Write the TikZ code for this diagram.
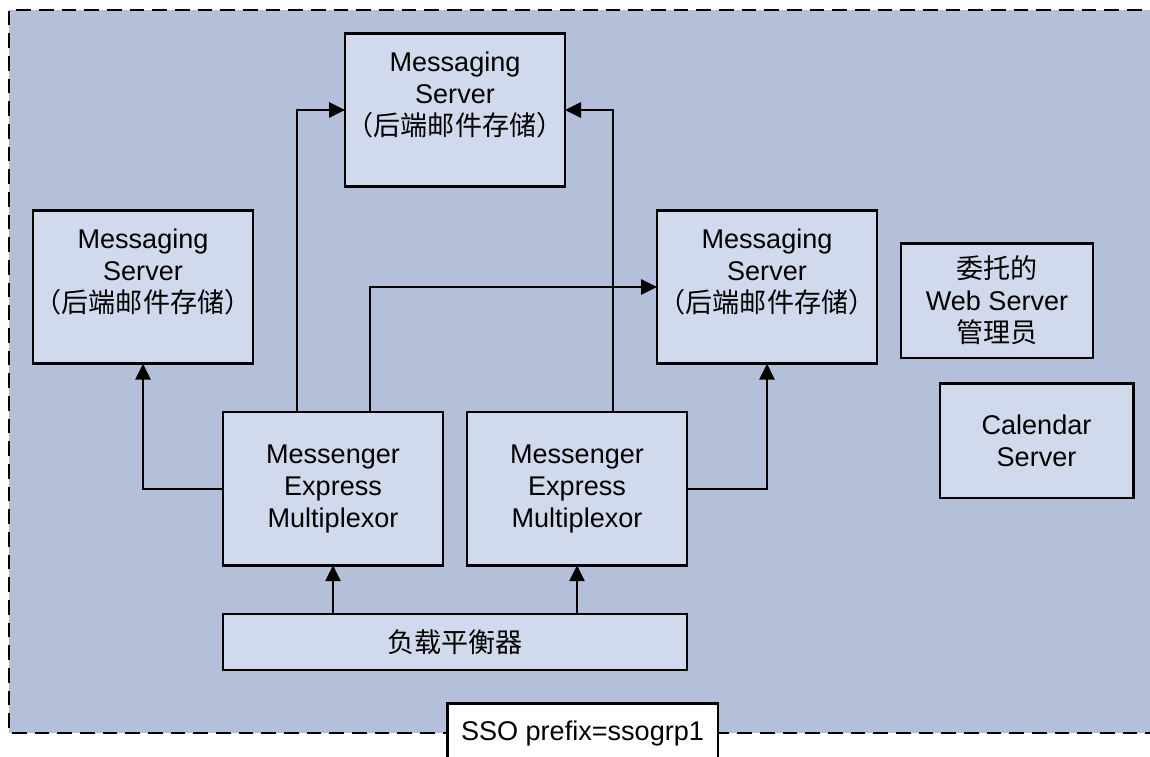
\documentclass[tikz,border=0pt]{standalone}
\usepackage{fontspec}
\setmainfont{Liberation Sans}
\newfontfamily\cjk{Noto Sans CJK SC}
\usetikzlibrary{arrows.meta,calc}
\definecolor{zonebg}{HTML}{B4C0DA}
\definecolor{boxbg}{HTML}{D1DAEC}
\tikzset{
  srv/.style={draw, line width=2pt, fill=boxbg, inner sep=0pt, outer sep=0pt,
    align=center, font=\fontsize{20.3}{24}\selectfont},
  store/.style={srv, minimum width=165pt, minimum height=115pt},
  mux/.style={srv, minimum width=165pt, minimum height=115pt},
  link/.style={->, line width=1.5pt},
}
\begin{document}
\begin{tikzpicture}[x=0.75pt, y=-0.75pt, >={Triangle[length=12pt,width=11.5pt]}]
\useasboundingbox (0,0) rectangle (1150,757);
% SSO zone
\fill[zonebg] (9,10) rectangle (1160,733);
\draw[dash pattern=on 11pt off 6pt, line width=2pt] (1160,733) -- (9,733) -- (9,10) -- (1160,10);

\node[store] (ms1) at (455,110) {Messaging\\Server\\{\cjk （后端邮件存储）}\\\mbox{}};
\node[store] (ms2) at (143,287) {Messaging\\Server\\{\cjk （后端邮件存储）}\\\mbox{}};
\node[store] (ms3) at (767,287) {Messaging\\Server\\{\cjk （后端邮件存储）}\\\mbox{}};
\node[srv, minimum width=144pt, minimum height=86pt] (web) at (997,300.5) {{\cjk 委托的}\\Web Server\\{\cjk 管理员}};
\node[srv, minimum width=145pt, minimum height=86pt] (cal) at (1036.5,440.5) {Calendar\\Server};
\node[mux] (mux1) at (333,488.5) {Messenger\\Express\\Multiplexor};
\node[mux] (mux2) at (577,488.5) {Messenger\\Express\\Multiplexor};
\node[srv, minimum width=348pt, minimum height=42pt] (lb) at (455,642) {{\cjk 负载平衡器}};
\node[srv, fill=white, minimum width=203pt, minimum height=44pt] (sso) at (582.5,733) {SSO prefix=ssogrp1};

\draw[link] (mux1.west) -| (ms2.south);
\draw[link] ($(mux1.north west)+(74,0)$) |- (ms1.west);
\draw[link] ($(mux1.north west)+(147,0)$) |- (ms3.west);
\draw[link] ($(mux2.north west)+(146,0)$) |- (ms1.east);
\draw[link] (mux2.east) -| (ms3.south);
\draw[link] (mux1.south |- lb.north) -- (mux1.south);
\draw[link] (mux2.south |- lb.north) -- (mux2.south);
\end{tikzpicture}
\end{document}
